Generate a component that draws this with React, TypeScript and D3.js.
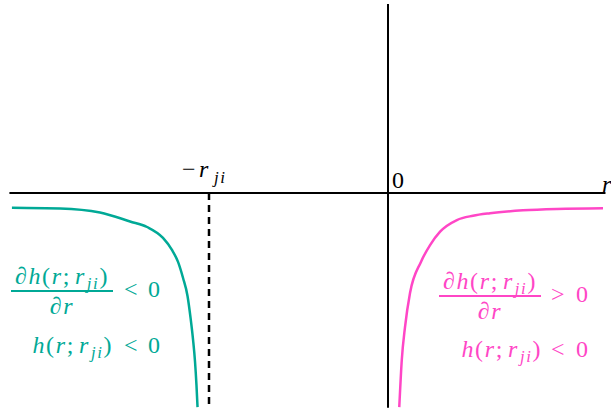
import React from 'react';
import * as d3 from 'd3';

const W = 611;
const H = 412;

// r in units of r_ji, h in the same units
const rji = 1;
const xAxisRange = [-2.115, 1.215];
const yAxisRange = [1.056, -1.2];

// teal branch, left of the -r_ji asymptote
const leftR = [-2.101, -1.832, -1.609, -1.441, -1.346, -1.257, -1.207, -1.173, -1.145, -1.12, -1.103, -1.089, -1.078, -1.07, -1.064];
const leftH = [-0.082, -0.086, -0.109, -0.159, -0.19, -0.251, -0.318, -0.385, -0.475, -0.575, -0.698, -0.821, -0.944, -1.073, -1.196];

// pink branch, right of r = 0
const rightR = [0.063, 0.077, 0.095, 0.123, 0.184, 0.235, 0.291, 0.385, 0.475, 0.57, 0.754, 0.944, 1.201];
const rightH = [-1.196, -0.933, -0.749, -0.559, -0.385, -0.291, -0.216, -0.151, -0.127, -0.113, -0.097, -0.089, -0.085];

const TEAL = '#00a996';
const PINK = '#ff46c6';
const FONT = "'Liberation Serif', serif";
const FS = 24;
const LS = 1.6;

const x = d3.scaleLinear().domain([-rji, 0]).range([209, 388]);
const y = d3.scaleLinear().domain([0, -1]).range([193, 372]);

const line = d3.line<[number, number]>()
  .x(d => x(d[0]))
  .y(d => y(d[1]))
  .curve(d3.curveMonotoneX);

const leftPts = leftR.map((r, i) => [r, leftH[i]] as [number, number]);
const rightPts = rightR.map((r, i) => [r, rightH[i]] as [number, number]);

// h(r; r_ji)
function Hr() {
  return (
    <>
      <tspan fontStyle="italic">h</tspan>(<tspan fontStyle="italic">r</tspan>;<tspan dx={4} fontStyle="italic">r</tspan>
      <tspan fontStyle="italic" fontSize={FS * 0.7} dx={1} dy={5}>ji</tspan>
      <tspan dy={-5}>)</tspan>
    </>
  );
}

function Label({ cx, barY, half, color, sign, signX, zeroX }:
  { cx: number; barY: number; half: number; color: string; sign: string; signX: number; zeroX: number }) {
  return (
    <g fill={color} fontFamily={FONT} fontSize={FS} letterSpacing={LS}>
      <text x={cx} y={barY - 7} textAnchor="middle">
        <tspan fontStyle="italic">∂</tspan>
        <Hr />
      </text>
      <line x1={cx - half} x2={cx + half} y1={barY} y2={barY} stroke={color} strokeWidth={2} />
      <text x={cx} y={barY + 23} textAnchor="middle" fontStyle="italic">∂r</text>
      <text x={signX} y={barY + 6}>{sign}</text>
      <text x={zeroX} y={barY + 6}>0</text>
    </g>
  );
}

function Second({ endX, baseY, color, signX, zeroX }:
  { endX: number; baseY: number; color: string; signX: number; zeroX: number }) {
  return (
    <g fill={color} fontFamily={FONT} fontSize={FS} letterSpacing={LS}>
      <text x={endX} y={baseY} textAnchor="end"><Hr /></text>
      <text x={signX} y={baseY}>&lt;</text>
      <text x={zeroX} y={baseY}>0</text>
    </g>
  );
}

export default function App() {
  return (
    <svg width={W} height={H} style={{ position: 'absolute', left: 0, top: 0, background: '#fff' }}>
      {/* axes */}
      <line x1={x(xAxisRange[0])} x2={x(xAxisRange[1])} y1={y(0)} y2={y(0)} stroke="#000" strokeWidth={2} />
      <line x1={x(0)} x2={x(0)} y1={y(yAxisRange[0])} y2={y(yAxisRange[1])} stroke="#000" strokeWidth={2} />
      <line x1={x(-rji)} x2={x(-rji)} y1={y(0)} y2={y(yAxisRange[1])} stroke="#000" strokeWidth={2.5} strokeDasharray="7,5" />

      <path d={line(leftPts) ?? ''} fill="none" stroke={TEAL} strokeWidth={2.5} />
      <path d={line(rightPts) ?? ''} fill="none" stroke={PINK} strokeWidth={2.5} />

      <g fontFamily={FONT} fontSize={24} fill="#000">
        <text x={182} y={177}>−</text>
        <text x={199} y={177} fontStyle="italic">r</text>
        <text x={214} y={183} fontStyle="italic" fontSize={17} letterSpacing={1.5}>ji</text>
        <text x={392} y={188}>0</text>
        <text x={602} y={192} fontStyle="italic">r</text>
      </g>

      <Label cx={62} barY={291} half={51} color={TEAL} sign="<" signX={124} zeroX={148} />
      <Second endX={113} baseY={353} color={TEAL} signX={124} zeroX={148} />

      <Label cx={490} barY={296} half={51} color={PINK} sign=">" signX={551} zeroX={576} />
      <Second endX={542} baseY={357} color={PINK} signX={551} zeroX={576} />
    </svg>
  );
}
